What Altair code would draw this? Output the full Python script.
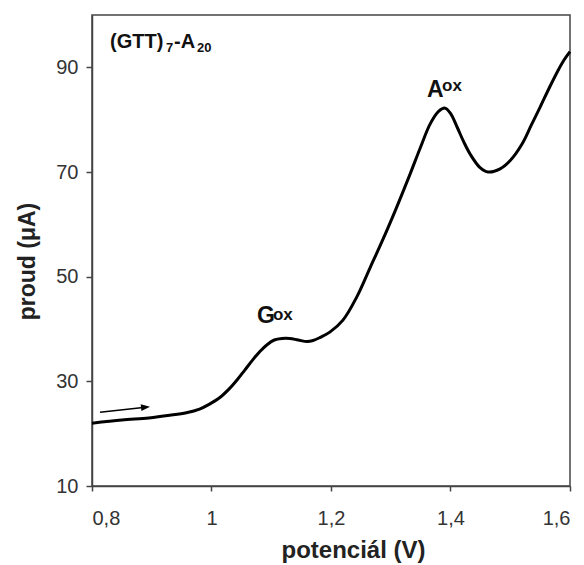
import altair as alt
import pandas as pd

# Voltammogram (GTT)7-A20
potential = [0.800, 0.850, 0.895, 0.930, 0.958, 0.980, 0.996, 1.014, 1.030, 1.043,
             1.056, 1.069, 1.081, 1.093, 1.105, 1.118, 1.131, 1.145, 1.160, 1.170,
             1.182, 1.198, 1.220, 1.243, 1.265, 1.288, 1.310, 1.332, 1.349, 1.366,
             1.380, 1.391, 1.400, 1.411, 1.422, 1.433, 1.449, 1.463, 1.483, 1.500,
             1.520, 1.535, 1.550, 1.565, 1.580, 1.590, 1.600]
current = [22.0, 22.6, 23.0, 23.5, 24.0, 24.7, 25.6, 26.9, 28.6, 30.3,
           32.2, 34.1, 35.7, 37.0, 37.9, 38.2, 38.2, 37.9, 37.6, 37.8,
           38.4, 39.4, 41.7, 46.1, 51.6, 57.4, 63.3, 69.5, 74.5, 79.2,
           81.6, 82.2, 81.2, 78.6, 75.8, 73.4, 70.9, 70.0, 70.6, 72.2,
           75.4, 78.9, 82.4, 86.0, 89.4, 91.4, 93.0]

x_ticks = [0.8, 1.0, 1.2, 1.4, 1.6]
y_ticks = [10, 30, 50, 70, 90]

# annotation texts (position in data units)
ann_text = ["(GTT)", "7", "-A", "20", "G", "ox", "A", "ox"]
ann_x = [0.8301, 0.9238, 0.9372, 0.9757, 1.0762, 1.1029, 1.3607, 1.3858]
ann_y = [93.69, 92.93, 93.69, 92.93, 41.15, 41.72, 84.33, 85.47]
ann_size = [20, 13, 20, 13, 23, 17, 23, 17]

# scan direction arrow
arrow_x = [0.8134, 0.8896]
arrow_y = [24.08, 25.06]

curve = pd.DataFrame({"E": potential, "I": current})
ann = pd.DataFrame({"t": ann_text, "x": ann_x, "y": ann_y, "s": ann_size})
arrow = pd.DataFrame({"x": arrow_x, "y": arrow_y, "o": [0, 1]})
head = pd.DataFrame({"x": [arrow_x[1]], "y": [arrow_y[1]]})

FONT = "Liberation Sans"

xscale = alt.Scale(domain=[0.8, 1.6], nice=False, zero=False)
yscale = alt.Scale(domain=[10, 100], nice=False, zero=False)

xaxis = alt.Axis(values=x_ticks, labelExpr="replace(format(datum.value, '~g'), '.', ',')",
                 title="potenciál (V)", grid=False, tickSize=5, labelPadding=17,
                 labelFontSize=20, labelFont=FONT, labelColor="#333",
                 titleFont=FONT, titleFontSize=24, titleFontWeight="bold", titleColor="#222",
                 titleX=261, titleY=64, titleBaseline="middle", titleAlign="center",
                 domainColor="#444", domainWidth=1.5, tickColor="#444", tickWidth=1.5)
yaxis = alt.Axis(values=y_ticks, title="proud (μA)", grid=False, tickSize=6, labelPadding=8,
                 labelFontSize=20, labelFont=FONT, labelColor="#333",
                 titleFont=FONT, titleFontSize=23, titleFontWeight="bold", titleColor="#222",
                 titleAngle=270, titleX=-65, titleY=246, titleBaseline="middle", titleAlign="center",
                 domainColor="#444", domainWidth=1.5, tickColor="#444", tickWidth=1.5)

line = alt.Chart(curve).mark_line(color="black", strokeWidth=3, interpolate="catmull-rom").encode(
    x=alt.X("E:Q", scale=xscale, axis=xaxis),
    y=alt.Y("I:Q", scale=yscale, axis=yaxis),
)

texts = alt.Chart(ann).mark_text(align="left", baseline="alphabetic", font=FONT,
                                  fontWeight="bold", color="#111").encode(
    x=alt.X("x:Q", scale=xscale),
    y=alt.Y("y:Q", scale=yscale),
    text="t:N",
    size=alt.Size("s:Q", scale=None, legend=None),
)

arr_line = alt.Chart(arrow).mark_line(color="black", strokeWidth=1.5).encode(
    x=alt.X("x:Q", scale=xscale),
    y=alt.Y("y:Q", scale=yscale),
    order="o:Q",
)
arr_head = alt.Chart(head).mark_point(shape="M1,0L-1,-0.75L-1,0.75Z", size=81, filled=True,
                                       color="black", opacity=1, angle=353.6).encode(
    x=alt.X("x:Q", scale=xscale),
    y=alt.Y("y:Q", scale=yscale),
)

chart = alt.layer(line, arr_line, arr_head, texts).properties(
    width=478, height=471,
    autosize=alt.AutoSizeParams(type="none"),
    padding={"left": 92, "top": 15, "right": 14, "bottom": 79},
    background="white",
).configure_view(stroke="#444", strokeWidth=1.5)

chart.save("out.html", embed_options={"renderer": "svg", "actions": False})
